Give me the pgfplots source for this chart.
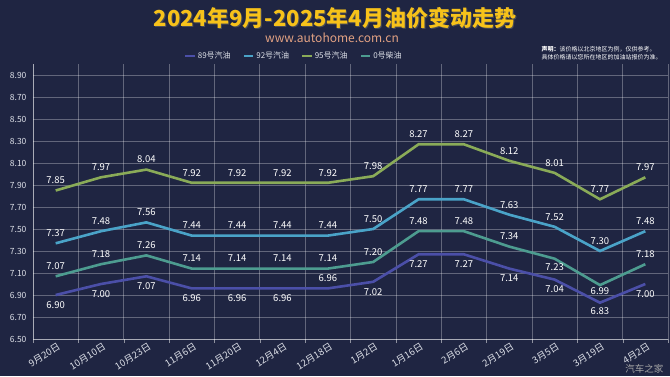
\documentclass[border=0pt]{standalone}
\usepackage{pgfplots}
\pgfplotsset{compat=1.18}
\usepackage{pgfplotstable}
\usepackage{fontspec}
\setmainfont{Noto Sans CJK SC}
\definecolor{bg}{HTML}{1F2542}
\definecolor{c89}{HTML}{4B4FA8}
\definecolor{c92}{HTML}{4AA3C8}
\definecolor{c95}{HTML}{8AAB58}
\definecolor{c0}{HTML}{4D9C90}
\definecolor{titlec}{HTML}{F7C21A}
\definecolor{subc}{HTML}{E3A283}
\definecolor{tickc}{HTML}{DDE0E8}
\pgfplotstableread{
x y89 o89 y92 o92 y95 o95 y0 o0
0  6.90 -10 7.37 10 7.85 10 7.07 10
1  7.00 -10 7.48 10 7.97 10 7.18 10
2  7.07 -10 7.56 10 8.04 10 7.26 10
3  6.96 -10 7.44 10 7.92 10 7.14 10
4  6.96 -10 7.44 10 7.92 10 7.14 10
5  6.96 -10 7.44 10 7.92 10 7.14 10
6  6.96  10 7.44 10 7.92 10 7.14 10
7  7.02 -10 7.50 10 7.98 10 7.20 10
8  7.27 -10 7.77 10 8.27 10 7.48 10
9  7.27 -10 7.77 10 8.27 10 7.48 10
10 7.14 -10 7.63 10 8.12 10 7.34 10
11 7.04 -10 7.52 10 8.01 10 7.23 -8
12 6.83 -8  7.30 10 7.77 10 6.99 -6
13 7.00 -10 7.48 10 7.97 10 7.18 10
}\data
\begin{document}
\begin{tikzpicture}
\fill[bg] (0,0) rectangle (670pt,376pt);
\node[text=black!60, opacity=0.6, font=\fontsize{22}{24}\selectfont\bfseries] at (336pt,357pt) {2024年9月-2025年4月油价变动走势};
\node[text=titlec, font=\fontsize{22}{24}\selectfont\bfseries] at (335pt,358pt) {2024年9月-2025年4月油价变动走势};
\node[text=subc, font=\fontsize{12}{13}\selectfont] at (332pt,338pt) {www.autohome.com.cn};
\node[text=white, font=\fontsize{6}{7.5}\selectfont, anchor=west, align=left] at (538pt,323pt) {\textbf{声明：}该价格以北京地区为例，仅供参考。\\具体价格请以您所在地区的加油站报价为准。};
\node[text=gray!70, font=\fontsize{9.5}{10}\selectfont, anchor=east] at (667pt,7pt) {汽车之家};
\begin{axis}[
  at={(33pt,37pt)}, anchor=south west, scale only axis,
  width=635pt, height=275pt,
  xmin=-0.5, xmax=13.5, ymin=6.5, ymax=9.0,
  clip=false,
  xtick={0,...,13},
  xticklabels={9月20日,10月10日,10月23日,11月6日,11月20日,12月4日,12月18日,1月2日,1月16日,2月6日,2月19日,3月5日,3月19日,4月2日},
  minor xtick={-0.5,0.5,1.5,2.5,3.5,4.5,5.5,6.5,7.5,8.5,9.5,10.5,11.5,12.5,13.5},
  xminorgrids, ymajorgrids,
  ytick={6.5,6.7,6.9,7.1,7.3,7.5,7.7,7.9,8.1,8.3,8.5,8.7,8.9},
  yticklabel style={/pgf/number format/.cd, fixed, fixed zerofill, precision=2, /tikz/.cd, text=tickc, font=\fontsize{8.5}{9}\selectfont, xshift=-3pt},
  /pgf/number format/assume math mode=true,
  xticklabel style={rotate=32, anchor=north east, text=tickc, font=\fontsize{9.5}{10}\selectfont, inner sep=0.5pt, yshift=-3pt},
  axis x line*=bottom, axis y line*=left,
  axis line style={draw=white, draw opacity=0.45, -},
  major tick length=0pt, minor tick length=4pt,
  tick align=outside,
  minor tick style={white, opacity=0.5},
  grid style={white, opacity=0.3, line width=0.6pt},
  minor grid style={white, opacity=0.3, line width=0.6pt},
  legend columns=4,
  legend style={at={(0.411,1.029)}, anchor=center, draw=none, fill=none, text=tickc, font=\fontsize{8}{9}\selectfont, /tikz/every even column/.append style={column sep=10pt}},
  legend image code/.code={\draw[#1, line width=2.5pt] (0,0)--(0.32cm,0);},
  every axis plot/.append style={line width=2.6pt, no marks},
  nodes near coords={\pgfmathprintnumber[fixed,fixed zerofill,precision=2]{\pgfplotspointmeta}},
  point meta=y,
  every node near coord/.style={anchor=center, yshift=\off, text=white, font=\fontsize{9.5}{10}\selectfont},
]
\addplot[c89, visualization depends on={\thisrow{o89} \as \off}] table[x=x,y=y89] {\data};
\addlegendentry{89号汽油}
\addplot[c92, visualization depends on={\thisrow{o92} \as \off}] table[x=x,y=y92] {\data};
\addlegendentry{92号汽油}
\addplot[c95, visualization depends on={\thisrow{o95} \as \off}] table[x=x,y=y95] {\data};
\addlegendentry{95号汽油}
\addplot[c0, visualization depends on={\thisrow{o0} \as \off}] table[x=x,y=y0] {\data};
\addlegendentry{0号柴油}
\end{axis}
\end{tikzpicture}
\end{document}
